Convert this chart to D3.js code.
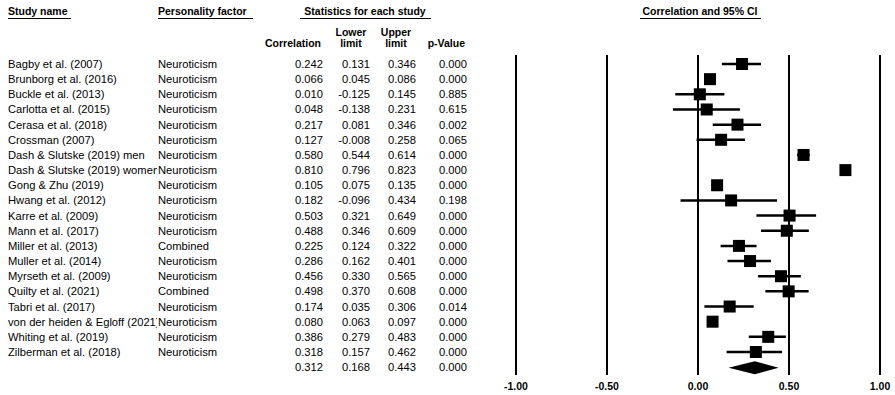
<!DOCTYPE html>
<html>
<head>
<meta charset="utf-8">
<script src="https://cdn.jsdelivr.net/npm/d3@7"></script>
<style>
  body { margin: 0; background: #fff; }
  text { font-family: "Liberation Sans", Arial, sans-serif; fill: #000; }
  .hdr { font-weight: bold; font-size: 10.5px; }
  .cell { font-size: 11.2px; }
</style>
</head>
<body>
<script>
// study data
var studies = ["Bagby et al. (2007)", "Brunborg et al. (2016)", "Buckle et al. (2013)", "Carlotta et al. (2015)",
  "Cerasa et al. (2018)", "Crossman (2007)", "Dash & Slutske (2019) men", "Dash & Slutske (2019) women",
  "Gong & Zhu (2019)", "Hwang et al. (2012)", "Karre et al. (2009)", "Mann et al. (2017)",
  "Miller et al. (2013)", "Muller et al. (2014)", "Myrseth et al. (2009)", "Quilty et al. (2021)",
  "Tabri et al. (2017)", "von der heiden & Egloff (2021)", "Whiting et al. (2019)", "Zilberman et al. (2018)"];
var factors = ["Neuroticism", "Neuroticism", "Neuroticism", "Neuroticism", "Neuroticism", "Neuroticism",
  "Neuroticism", "Neuroticism", "Neuroticism", "Neuroticism", "Neuroticism", "Neuroticism",
  "Combined", "Neuroticism", "Neuroticism", "Combined", "Neuroticism", "Neuroticism", "Neuroticism", "Neuroticism"];
var correlation = [0.242, 0.066, 0.010, 0.048, 0.217, 0.127, 0.580, 0.810, 0.105, 0.182,
  0.503, 0.488, 0.225, 0.286, 0.456, 0.498, 0.174, 0.080, 0.386, 0.318];
var lower = [0.131, 0.045, -0.125, -0.138, 0.081, -0.008, 0.544, 0.796, 0.075, -0.096,
  0.321, 0.346, 0.124, 0.162, 0.330, 0.370, 0.035, 0.063, 0.279, 0.157];
var upper = [0.346, 0.086, 0.145, 0.231, 0.346, 0.258, 0.614, 0.823, 0.135, 0.434,
  0.649, 0.609, 0.322, 0.401, 0.565, 0.608, 0.306, 0.097, 0.483, 0.462];
var pValue = [0.000, 0.000, 0.885, 0.615, 0.002, 0.065, 0.000, 0.000, 0.000, 0.198,
  0.000, 0.000, 0.000, 0.000, 0.000, 0.000, 0.014, 0.000, 0.000, 0.000];
// pooled estimate
var summary = { r: 0.312, lo: 0.168, hi: 0.443, p: 0.000 };
var ticks = [-1, -0.5, 0, 0.5, 1];

function main() {
  var width = 895, height = 395;
  var svg = d3.select("body").append("svg")
    .attr("width", width)
    .attr("height", height);

  // long study names get cut at the next column
  svg.append("defs").append("clipPath").attr("id", "nameclip")
    .append("rect").attr("x", 0).attr("y", 0).attr("width", 157).attr("height", height);

  var x = d3.scaleLinear().domain([-1, 1]).range([516, 880]);
  // row index -> y centre (summary row is index 20)
  var y = d3.scaleLinear().domain([0, 19]).range([64, 352]);
  // plain hyphen instead of unicode minus
  var fmt = function (v) { return d3.format(".3f")(v).replace("\u2212", "-"); };
  var fmt2 = function (v) { return d3.format(".2f")(v).replace("\u2212", "-"); };

  // headers
  function header(txt, xpos, ypos, anchor) {
    return svg.append("text").attr("class", "hdr")
      .attr("x", xpos).attr("y", ypos)
      .attr("text-anchor", anchor || "start")
      .text(txt);
  }
  function underline(x1, x2) {
    svg.append("line").attr("x1", x1).attr("x2", x2)
      .attr("y1", 18.5).attr("y2", 18.5)
      .attr("stroke", "#000").attr("stroke-width", 1);
  }
  header("Study name", 8, 15); underline(8, 71);
  header("Personality factor", 158, 15); underline(158, 253);
  header("Statistics for each study", 365, 15, "middle"); underline(300, 431);
  header("Correlation and 95% CI", 700, 15, "middle"); underline(640, 761);
  header("Correlation", 321, 47, "end");
  header("Lower", 351, 36, "middle");
  header("limit", 351, 47, "middle");
  header("Upper", 396, 36, "middle");
  header("limit", 396, 47, "middle");
  header("p-Value", 465, 47, "end");

  // table cells
  svg.append("g").attr("clip-path", "url(#nameclip)")
    .selectAll("text")
    .data(studies)
    .enter().append("text")
    .attr("class", "cell")
    .attr("x", 8)
    .attr("y", function (d, i) { return y(i) + 4; })
    .text(function (d) { return d; });

  var rows = svg.append("g").selectAll("g")
    .data(studies)
    .enter().append("g")
    .attr("transform", function (d, i) { return "translate(0," + (y(i) + 4) + ")"; });

  rows.append("text").attr("class", "cell").attr("x", 158).text(function (d, i) { return factors[i]; });
  var cols = [[correlation, 323], [lower, 370], [upper, 416], [pValue, 467]];
  cols.forEach(function (c) {
    rows.append("text").attr("class", "cell")
      .attr("x", c[1]).attr("text-anchor", "end")
      .text(function (d, i) { return fmt(c[0][i]); });
  });
  // summary numbers
  [[summary.r, 323], [summary.lo, 370], [summary.hi, 416], [summary.p, 467]].forEach(function (c) {
    svg.append("text").attr("class", "cell")
      .attr("x", c[1]).attr("y", y(20) + 4).attr("text-anchor", "end")
      .text(fmt(c[0]));
  });

  // reference lines
  svg.append("g").selectAll("line")
    .data(ticks).enter().append("line")
    .attr("x1", function (d) { return x(d); })
    .attr("x2", function (d) { return x(d); })
    .attr("y1", 55).attr("y2", 375)
    .attr("stroke", "#000").attr("stroke-width", 2);

  // tick labels
  svg.append("g").selectAll("text")
    .data(ticks).enter().append("text")
    .attr("class", "hdr")
    .attr("x", function (d) { return x(d); })
    .attr("y", 390)
    .attr("text-anchor", "middle")
    .text(fmt2);

  // CI lines and squares
  var marks = svg.append("g").selectAll("g")
    .data(correlation).enter().append("g");
  marks.append("line")
    .attr("x1", function (d, i) { return x(lower[i]); })
    .attr("x2", function (d, i) { return x(upper[i]); })
    .attr("y1", function (d, i) { return y(i); })
    .attr("y2", function (d, i) { return y(i); })
    .attr("stroke", "#000").attr("stroke-width", 2.5);
  var sq = 12;
  marks.append("rect")
    .attr("x", function (d) { return x(d) - sq / 2; })
    .attr("y", function (d, i) { return y(i) - sq / 2; })
    .attr("width", sq).attr("height", sq)
    .attr("fill", "#000");

  // summary diamond
  var yc = y(20) + 0.5;
  svg.append("path")
    .attr("d", "M" + x(summary.lo) + "," + yc +
      "L" + x(summary.r) + "," + (yc - 6.5) +
      "L" + x(summary.hi) + "," + yc +
      "L" + x(summary.r) + "," + (yc + 6.5) + "Z")
    .attr("fill", "#000");
}
document.addEventListener("DOMContentLoaded", main);
</script>
</body>
</html>
